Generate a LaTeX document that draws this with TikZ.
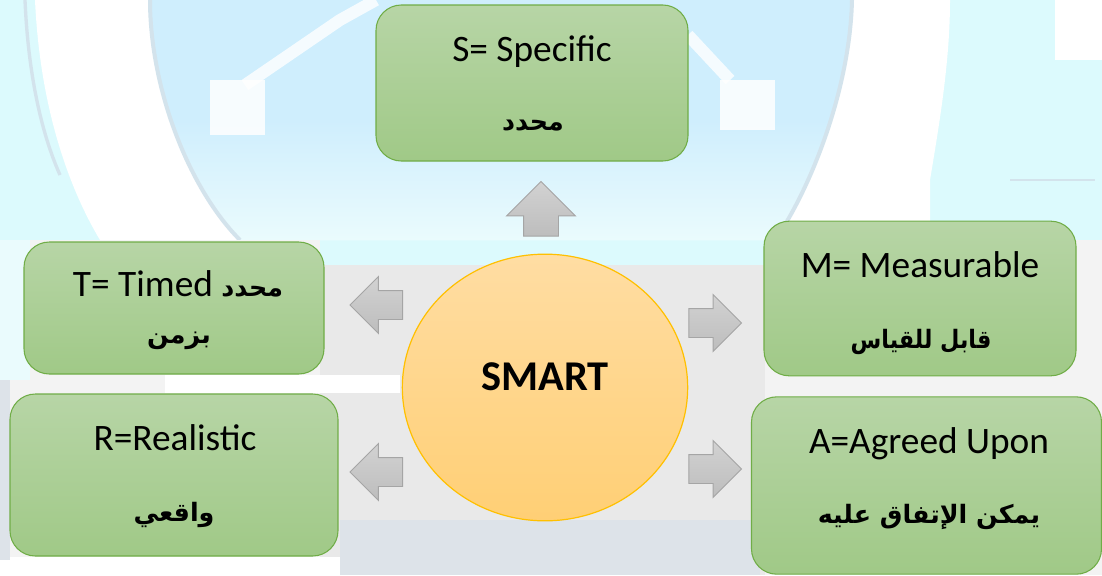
\documentclass[tikz,border=0pt]{standalone}
\usepackage{fontspec}
\usetikzlibrary{shapes.arrows,shapes.geometric}
\setmainfont{Carlito}
\newfontfamily\arabicfont[Script=Arabic]{DejaVu Sans}
\TeXXeTstate=1
\newcommand{\ar}[1]{{\arabicfont\bfseries\beginR #1\endR}}
\definecolor{gtop}{HTML}{B7D5A6}
\definecolor{gbot}{HTML}{A0C987}
\definecolor{gline}{HTML}{70AD47}
\definecolor{otop}{HTML}{FFDDA3}
\definecolor{obot}{HTML}{FFCF75}
\definecolor{oline}{HTML}{FFC000}
\definecolor{atop}{HTML}{D2D2D2}
\definecolor{abot}{HTML}{BDBDBD}
\definecolor{aline}{HTML}{A5A5A5}
\definecolor{cyanpale}{HTML}{DCFAFD}
\definecolor{sky}{HTML}{CFEEFD}
\definecolor{skylow}{HTML}{EAFBFD}
\definecolor{rim}{HTML}{D3E3EC}
\definecolor{wall}{HTML}{E9E9E9}
\definecolor{wall2}{HTML}{DDE3E9}
\definecolor{wall3}{HTML}{F3F3F3}
\tikzset{
  x=0.75pt,y=-0.75pt,
  box/.style={draw=gline,line width=0.8pt,rounded corners=19pt,top color=gtop,bottom color=gbot,inner sep=0pt},
  hub/.style={ellipse,draw=oline,line width=0.9pt,top color=otop,bottom color=obot,inner sep=0pt,minimum width=214pt,minimum height=200pt},
  hubtxt/.style={font=\fontsize{31.8}{34}\selectfont\bfseries,inner sep=0pt,text=black},
  lat/.style={font=\fontsize{28}{32}\selectfont,inner sep=0pt,text=black},
  arb/.style={font=\fontsize{19}{24}\selectfont,inner sep=0pt,text=black},
  harrow/.style={single arrow,draw=aline,line width=0.7pt,top color=atop,bottom color=abot,inner sep=10.5pt,
    minimum height=39.5pt,single arrow head extend=10.5pt,single arrow head indent=0pt},
  varrow/.style={single arrow,draw=aline,line width=0.7pt,top color=atop,bottom color=abot,inner sep=12.75pt,
    minimum height=41pt,single arrow head extend=12.75pt,single arrow head indent=0pt,shape border rotate=90},
}
\begin{document}
\begin{tikzpicture}
\useasboundingbox (0,0) rectangle (1102,575);
% blurred backdrop
\fill[cyanpale] (0,0) rectangle (1102,575);
\fill[white] (35,0) .. controls (40,110) and (70,190) .. (100,240) -- (930,240) -- (930,180) .. controls (940,120) and (950,60) .. (950,0) -- cycle;
\fill[white] (1055,0) rectangle (1102,60);
\shade[top color=sky,bottom color=skylow,middle color=sky] (150,0) .. controls (150,90) and (190,190) .. (240,240) -- (775,240) .. controls (810,190) and (850,90) .. (852,0) -- cycle;
\draw[rim,line width=3pt] (150,0) .. controls (150,90) and (190,190) .. (240,240);
\draw[rim,line width=3pt] (852,0) .. controls (850,90) and (810,190) .. (775,240);
\draw[rim,line width=2.5pt] (25,0) .. controls (28,70) and (40,130) .. (60,175);
\draw[white,opacity=.8,line width=9pt] (245,85) -- (340,20) -- (376,0);
\draw[white,opacity=.8,line width=9pt] (688,35) -- (730,80);
\fill[white,opacity=.85] (210,80) rectangle (265,135);
\fill[white,opacity=.85] (720,80) rectangle (775,130);
\draw[rim,line width=2pt] (1010,180) -- (1095,180);
% building
\fill[wall] (320,265) rectangle (765,575);
\fill[wall3] (0,240) rectangle (320,575);
\fill[wall3] (765,240) rectangle (1102,575);
\fill[skylow] (0,240) rectangle (30,380);
\fill[white] (165,375) rectangle (400,393);
\fill[wall2] (340,520) rectangle (760,575);
\fill[white] (0,557) rectangle (340,575);
\fill[wall2] (0,380) rectangle (10,560);
% hub and boxes
\node[hub] (hub) at (545,387.5) {};
\node[hubtxt] (hublabel) at (545,377) {SMART};
\node[box,minimum width=234pt,minimum height=117pt] (s) at (532,83) {};
\node[box,minimum width=225pt,minimum height=99pt] (t) at (174,308) {};
\node[box,minimum width=246pt,minimum height=121.5pt] (r) at (174,475) {};
\node[box,minimum width=234pt,minimum height=116pt] (m) at (920,298.5) {};
\node[box,minimum width=262.5pt,minimum height=133pt] (a) at (926.5,485.5) {};
% labels
\node[lat] (s1) at (532,52) {S= Specific};
\node[arb] (s2) at (533,126) {\ar{محدد}};
\node[lat] (t1) at (178,284) {T= Timed \ar{\fontsize{19}{24}\selectfont محدد}};
\node[arb] (t2) at (179,341) {\ar{بزمن}};
\node[lat] (r1) at (175,438) {R=Realistic};
\node[arb] (r2) at (174,515) {\ar{واقعي}};
\node[lat] (m1) at (920,265) {M= Measurable};
\node[arb] (m2) at (921,342) {\scalebox{.88}[1]{\ar{قابل للقياس}}};
\node[lat] (a1) at (929,444) {A=Agreed Upon};
\node[arb] (a2) at (929,517) {\ar{يمكن الإتفاق عليه}};
% block arrows
\node[varrow] (up) at (541,217.5) {};
\node[harrow,shape border rotate=180] (tl) at (383.5,305) {};
\node[harrow,shape border rotate=180] (rl) at (383.5,472) {};
\node[harrow] (mr) at (708,323) {};
\node[harrow] (ar) at (708,469) {};
\end{tikzpicture}
\end{document}
